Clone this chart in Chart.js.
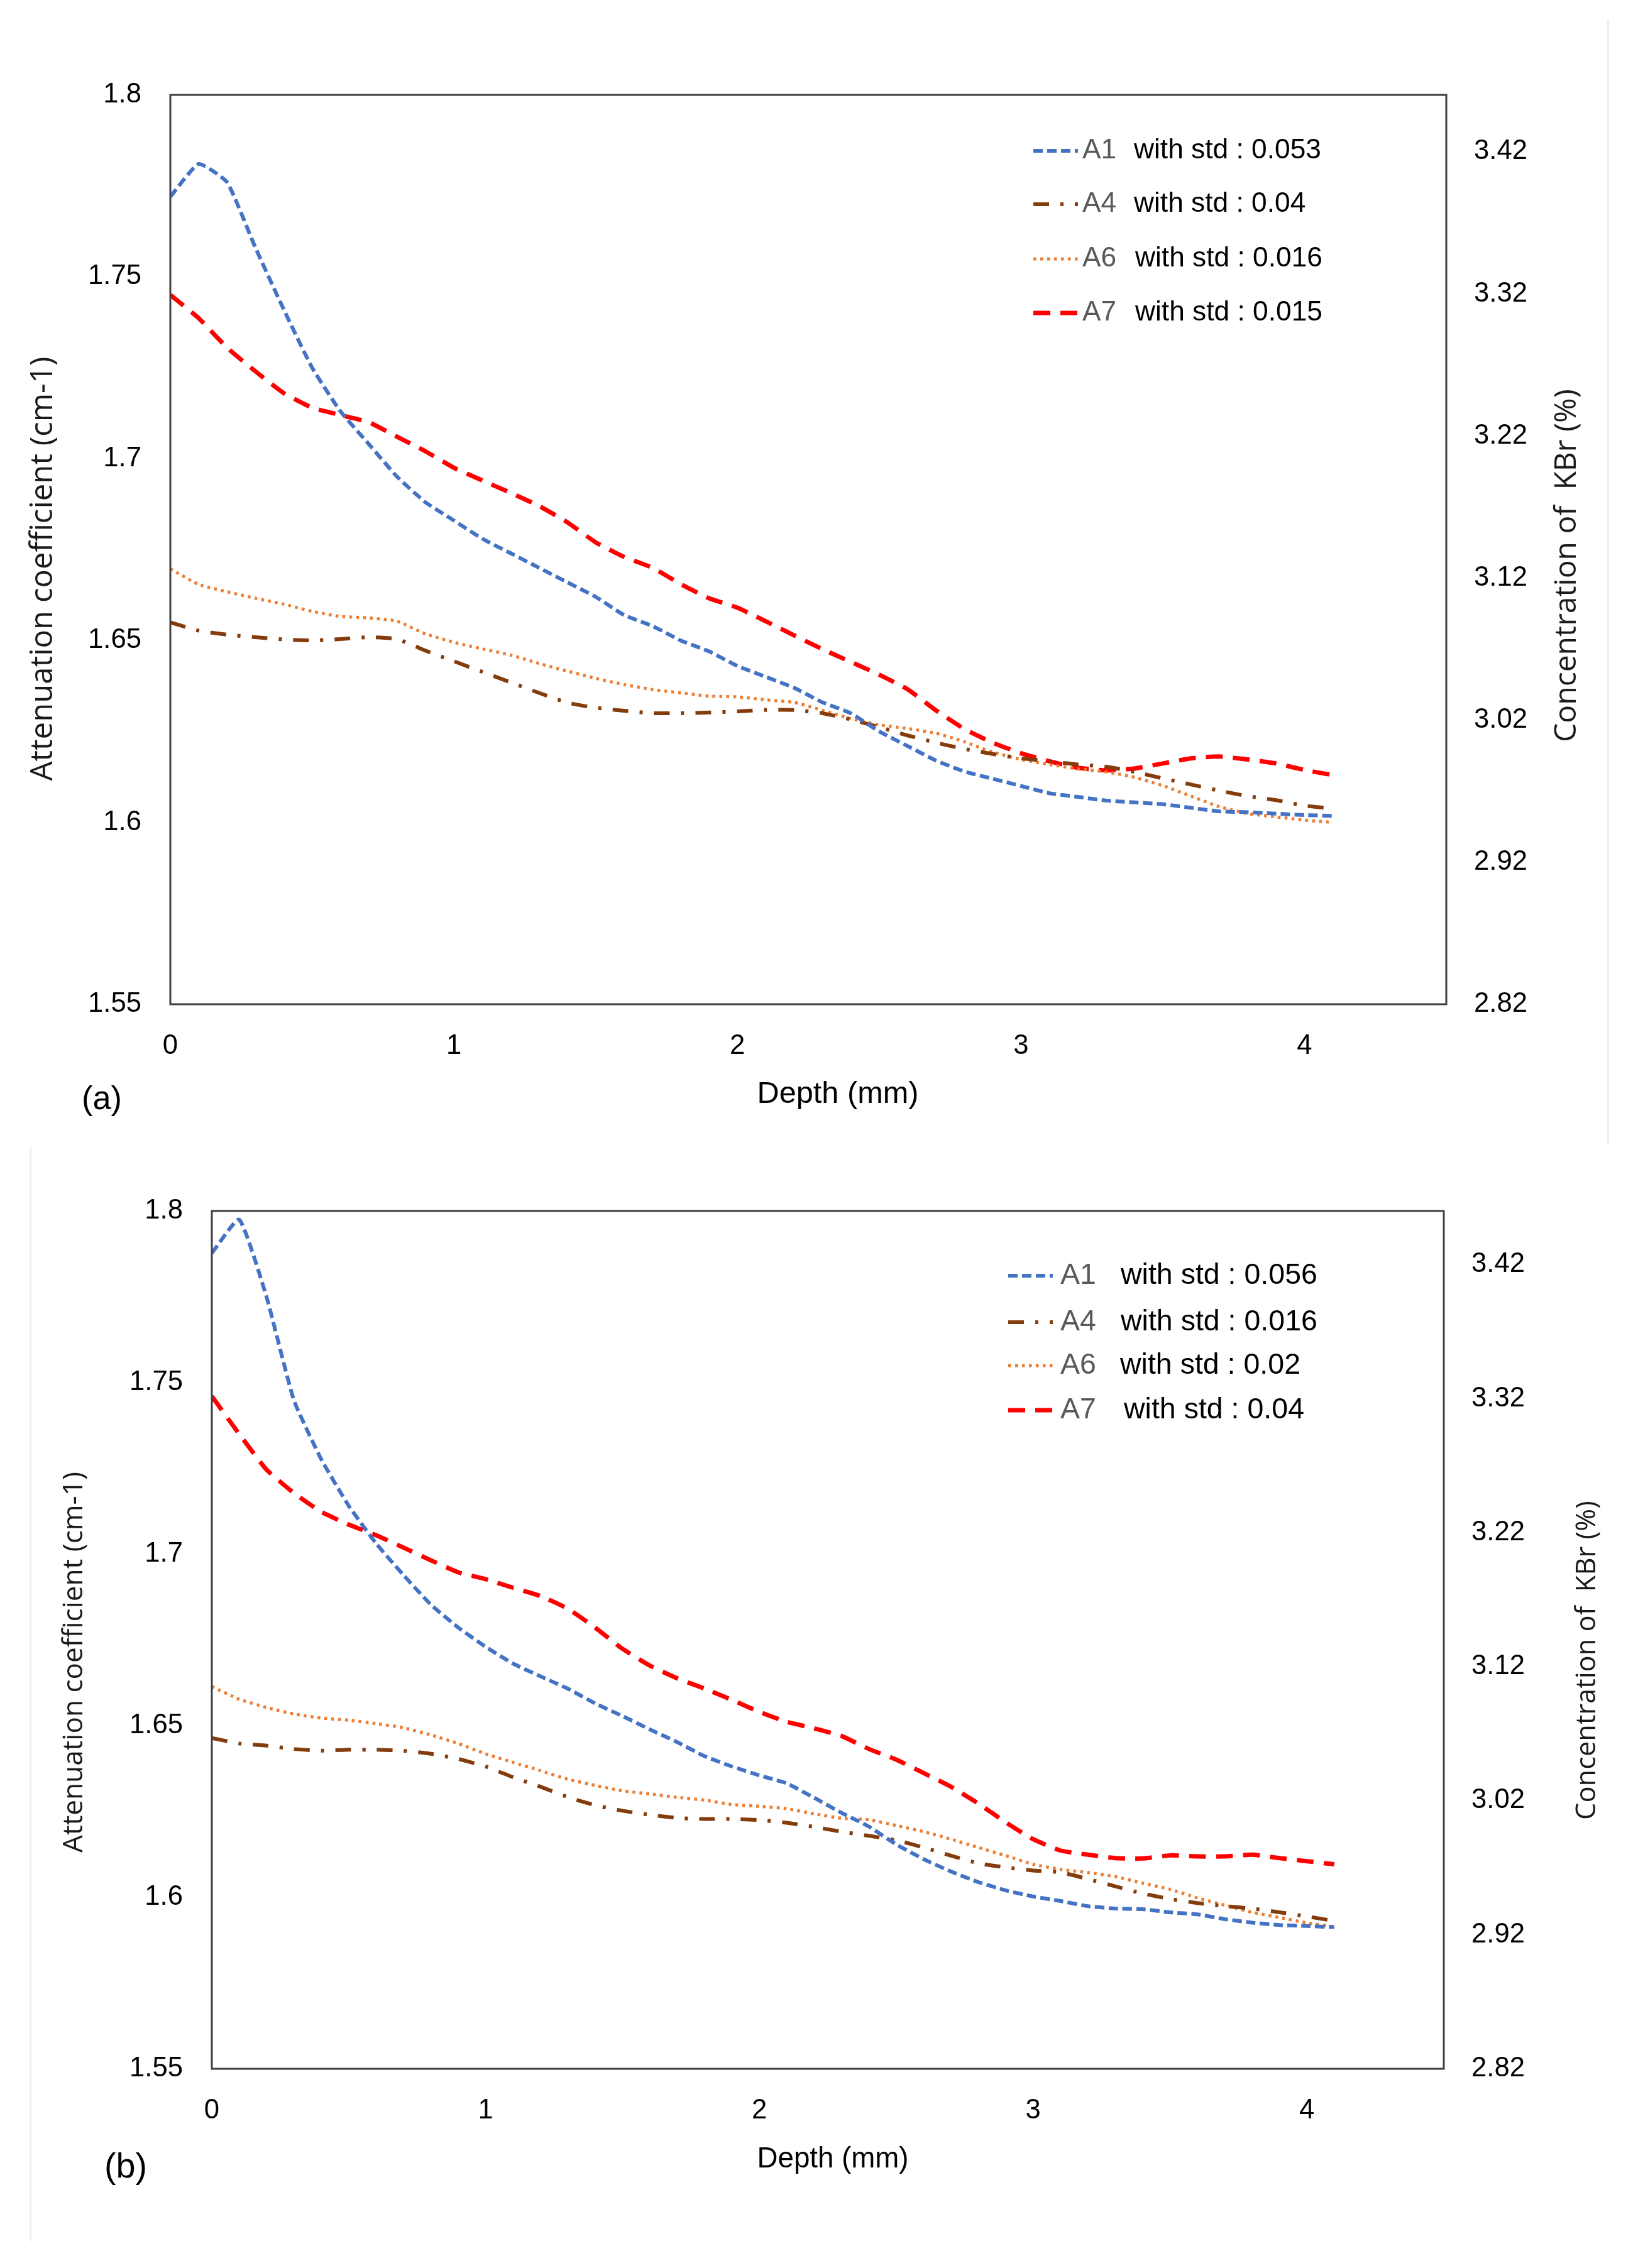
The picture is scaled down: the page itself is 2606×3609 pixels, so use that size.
<!DOCTYPE html>
<html>
<head>
<meta charset="utf-8">
<script src="https://cdn.jsdelivr.net/npm/chart.js@4.4.1/dist/chart.umd.min.js"></script>
<style>
  html, body { margin: 0; padding: 0; background: #fff; }
  body { width: 2606px; height: 3609px; position: relative; overflow: hidden; }
  canvas { position: absolute; left: 0; }
  .edge { position: absolute; background: #ececec; }
</style>
</head>
<body>
<canvas id="chartA" width="2606" height="1800" style="top:0"></canvas>
<canvas id="chartB" width="2606" height="1809" style="top:1800px"></canvas>
<div class="edge" style="left:2557px;top:30px;width:3px;height:1792px"></div>
<div class="edge" style="left:47px;top:1826px;width:3px;height:1740px"></div>
<script>
// ====== DATA ======
// depth (mm), one reading every 0.1 mm
const depth = [0, 0.1, 0.2, 0.3, 0.4, 0.5, 0.6, 0.7, 0.8, 0.9, 1, 1.1, 1.2, 1.3, 1.4, 1.5, 1.6, 1.7, 1.8, 1.9, 2,
  2.1, 2.2, 2.3, 2.4, 2.5, 2.6, 2.7, 2.8, 2.9, 3, 3.1, 3.2, 3.3, 3.4, 3.5, 3.6, 3.7, 3.8, 3.9, 4, 4.1];

const xTicks = [0, 1, 2, 3, 4];
const leftTicks = [1.55, 1.6, 1.65, 1.7, 1.75, 1.8];
const rightTicks = [2.82, 2.92, 3.02, 3.12, 3.22, 3.32, 3.42];

const seriesNames = ['A1', 'A4', 'A6', 'A7'];
const stdA = ['0.053', '0.04', '0.016', '0.015'];
const stdB = ['0.056', '0.016', '0.02', '0.04'];

// panel (a)
const a_A1 = [1.772, 1.781, 1.776, 1.758, 1.741, 1.725, 1.713, 1.704, 1.695, 1.688, 1.683, 1.678, 1.674, 1.670,
  1.666, 1.662, 1.657, 1.654, 1.650, 1.647, 1.643, 1.640, 1.637, 1.633, 1.630, 1.625, 1.621, 1.617, 1.614, 1.612,
  1.610, 1.608, 1.607, 1.606, 1.6055, 1.605, 1.604, 1.603, 1.6028, 1.6024, 1.602, 1.6018];
const a_A4 = [1.655, 1.6527, 1.6516, 1.6509, 1.6503, 1.650, 1.6504, 1.6509, 1.6504, 1.6472, 1.6443, 1.6414, 1.6385,
  1.6356, 1.6329, 1.6315, 1.6307, 1.630, 1.630, 1.6302, 1.6305, 1.6309, 1.6309, 1.630, 1.6283, 1.6262, 1.6239,
  1.6219, 1.6202, 1.6188, 1.6176, 1.6168, 1.6159, 1.6153, 1.6139, 1.6121, 1.6104, 1.6087, 1.6072, 1.6061, 1.6046, 1.6038];
const a_A6 = [1.6697, 1.6654, 1.6634, 1.6616, 1.660, 1.658, 1.6566, 1.6562, 1.6553, 1.6518, 1.6495, 1.6477, 1.646,
  1.6437, 1.6416, 1.6396, 1.6379, 1.6365, 1.6356, 1.6347, 1.6345, 1.6337, 1.633, 1.6308, 1.6285, 1.6268, 1.6258,
  1.6245, 1.6222, 1.6193, 1.6173, 1.6159, 1.6147, 1.6139, 1.6124, 1.6101, 1.6072, 1.6043, 1.6024, 1.6015, 1.6006, 1.600];
const a_A7 = [1.745, 1.7386, 1.7305, 1.724, 1.718, 1.714, 1.712, 1.710, 1.706, 1.702, 1.6975, 1.694, 1.6906, 1.687,
  1.6825, 1.677, 1.673, 1.670, 1.6655, 1.6616, 1.659, 1.6553, 1.6514, 1.6476, 1.6441, 1.6406, 1.6366, 1.6308, 1.6257,
  1.6219, 1.619, 1.6168, 1.615, 1.6143, 1.6148, 1.6162, 1.6176, 1.6181, 1.6173, 1.6162, 1.6144, 1.613];

// panel (b)
const b_A1 = [1.7877, 1.7975, 1.7749, 1.7448, 1.7276, 1.7141, 1.7031, 1.6939, 1.6853, 1.6786, 1.673, 1.6681, 1.6644,
  1.6608, 1.6565, 1.6528, 1.6489, 1.6452, 1.6411, 1.6381, 1.6355, 1.6332, 1.629, 1.6246, 1.6206, 1.6154, 1.6111,
  1.6075, 1.6044, 1.602, 1.6002, 1.5989, 1.5974, 1.5967, 1.5965, 1.5956, 1.595, 1.5936, 1.5926, 1.5919, 1.5916, 1.5913];
const b_A4 = [1.6464, 1.6448, 1.6442, 1.6432, 1.6427, 1.643, 1.643, 1.6427, 1.6418, 1.6403, 1.6381, 1.635, 1.6322,
  1.6292, 1.6268, 1.6252, 1.624, 1.6231, 1.6228, 1.6228, 1.6225, 1.6217, 1.6205, 1.6191, 1.6179, 1.6166, 1.6145,
  1.6121, 1.6099, 1.6087, 1.6078, 1.6073, 1.6053, 1.6032, 1.6011, 1.5995, 1.5983, 1.5974, 1.5967, 1.5956, 1.5944, 1.5931];
const b_A6 = [1.6614, 1.6577, 1.6553, 1.6534, 1.6522, 1.6516, 1.6506, 1.6494, 1.6473, 1.6448, 1.6418, 1.6393, 1.6369,
  1.6344, 1.6326, 1.631, 1.6301, 1.6291, 1.6283, 1.627, 1.6265, 1.6258, 1.6243, 1.623, 1.6226, 1.6209, 1.6191,
  1.6169, 1.6145, 1.6121, 1.6096, 1.6081, 1.6072, 1.606, 1.6041, 1.6023, 1.5998, 1.5977, 1.5956, 1.5941, 1.5925, 1.5914];
const b_A7 = [1.746, 1.735, 1.7246, 1.7178, 1.7123, 1.7086, 1.7055, 1.7019, 1.6982, 1.6947, 1.6927, 1.6902, 1.6878,
  1.6841, 1.6786, 1.6724, 1.6675, 1.6638, 1.6608, 1.6575, 1.654, 1.6511, 1.6492, 1.647, 1.6432, 1.6401, 1.6362,
  1.6322, 1.6273, 1.6218, 1.6169, 1.6136, 1.6124, 1.6114, 1.6113, 1.6122, 1.6119, 1.6119, 1.6124, 1.6114, 1.6105, 1.6096];

// ====== STYLE ======
const TEXT = '"Liberation Sans", Arial, sans-serif';
const TITLE = '"Open Sans", "Noto Sans", sans-serif';
const lineStyles = [
  { color: '#4472C4', width: 6, dash: [15, 7] },          // A1 short dash
  { color: '#843C0C', width: 6, dash: [25, 18, 5, 18] },  // A4 dash-dot
  { color: '#ED7D31', width: 5, dash: [4.5, 6.5] },       // A6 dotted
  { color: '#FF0000', width: 7, dash: [27, 16] }          // A7 long dash
];

const measureCtx = document.createElement('canvas').getContext('2d');
function fitSize(text, family, width) {
  measureCtx.font = '100px ' + family;
  return 100 * width / measureCtx.measureText(text).width;
}

function setTicks(values) {
  return scale => { scale.ticks = values.map(v => ({ value: v })); };
}

// titles, frame and legend drawn on top of the chart
const panelDecor = {
  id: 'panelDecor',
  afterDraw(chart, args, opts) {
    const ctx = chart.ctx;
    const area = chart.chartArea;
    const L = opts.lay;
    ctx.save();

    ctx.strokeStyle = '#404040';
    ctx.lineWidth = 3;
    ctx.strokeRect(area.left, area.top, area.right - area.left, area.bottom - area.top);

    ctx.fillStyle = '#000';
    ctx.textBaseline = 'middle';

    // x title
    ctx.textAlign = 'center';
    ctx.font = fitSize('Depth (mm)', TEXT, L.xTitle.w) + 'px ' + TEXT;
    ctx.fillText('Depth (mm)', L.xTitle.x, L.xTitle.y);

    // panel label
    ctx.textAlign = 'left';
    ctx.font = fitSize(L.tag.text, TEXT, L.tag.w) + 'px ' + TEXT;
    ctx.fillText(L.tag.text, L.tag.x, L.tag.y);

    // rotated y titles (both read bottom to top)
    [L.yTitle, L.y2Title].forEach(t => {
      ctx.save();
      ctx.translate(t.x, t.y);
      ctx.rotate(-Math.PI / 2);
      ctx.textAlign = 'center';
      ctx.fillStyle = '#1a1a1a';
      ctx.font = fitSize(t.text, TITLE, t.w) + 'px ' + TITLE;
      ctx.fillText(t.text, 0, 0);
      ctx.restore();
    });

    // legend
    const lg = L.legend;
    const size = fitSize('with std : ' + opts.stds[0], TEXT, lg.stdW);
    ctx.font = size + 'px ' + TEXT;
    ctx.textAlign = 'left';
    chart.data.datasets.forEach((ds, i) => {
      const st = lineStyles[i];
      const y = lg.rows[i];
      ctx.save();
      ctx.strokeStyle = st.color;
      ctx.lineWidth = st.width;
      ctx.setLineDash(st.dash);
      ctx.beginPath();
      ctx.moveTo(lg.x0, y);
      ctx.lineTo(lg.x1, y);
      ctx.stroke();
      ctx.restore();
      ctx.fillStyle = '#595959';
      ctx.fillText(ds.label, lg.labelX, y);
      ctx.fillStyle = '#000';
      ctx.fillText('with std : ' + opts.stds[i], lg.stdX[i], y);
    });
    ctx.restore();
  }
};

function makeChart(id, values, stds, lay) {
  const tickSize = fitSize('3.42', TEXT, lay.tickW);
  const tickFont = { family: TEXT, size: tickSize };
  const noGrid = { display: false, drawTicks: false };

  return new Chart(document.getElementById(id).getContext('2d'), {
    type: 'line',
    data: {
      datasets: values.map((vals, i) => ({
        label: seriesNames[i],
        data: depth.map((d, j) => ({ x: d, y: vals[j] })),
        borderColor: lineStyles[i].color,
        borderWidth: lineStyles[i].width,
        borderDash: lineStyles[i].dash,
        pointRadius: 0,
        fill: false,
        tension: 0.15,
        yAxisID: 'y'
      }))
    },
    options: {
      responsive: false,
      animation: false,
      devicePixelRatio: 1,
      layout: { padding: lay.pad },
      plugins: {
        legend: { display: false },
        tooltip: { enabled: false },
        panelDecor: { lay: lay, stds: stds }
      },
      scales: {
        x: {
          type: 'linear', min: 0, max: 4.5,
          afterBuildTicks: setTicks(xTicks),
          afterFit: s => { s.height = lay.xH; },
          grid: noGrid, border: { display: false },
          ticks: { font: tickFont, color: '#000', padding: lay.xPad, maxRotation: 0, autoSkip: false,
                   callback: v => String(v) }
        },
        y: {
          position: 'left', min: 1.55, max: 1.8,
          afterBuildTicks: setTicks(leftTicks),
          afterFit: s => { s.width = lay.yW; },
          grid: noGrid, border: { display: false },
          ticks: { font: tickFont, color: '#000', padding: 46, callback: v => String(v) }
        },
        y2: {
          position: 'right', display: true, min: 2.82, max: 3.46,
          afterBuildTicks: setTicks(rightTicks),
          afterFit: s => { s.width = lay.y2W; },
          grid: noGrid, border: { display: false },
          ticks: { font: tickFont, color: '#000', padding: 44, callback: v => String(v) }
        }
      }
    },
    plugins: [panelDecor]
  });
}

makeChart('chartA', [a_A1, a_A4, a_A6, a_A7], stdA, {
  pad: { left: 0, top: 151, right: 155, bottom: 82 },
  yW: 271, y2W: 150, xH: 120, xPad: 41, tickW: 85,
  xTitle: { x: 1333, y: 1742, w: 257 },
  tag: { text: '(a)', x: 130, y: 1751, w: 64 },
  yTitle: { text: 'Attenuation coefficient (cm-1)', x: 69, y: 905, w: 675 },
  y2Title: { text: 'Concentration of  KBr (%)', x: 2493, y: 900, w: 562 },
  legend: { x0: 1644, x1: 1715, labelX: 1722, stdX: [1804, 1804, 1806, 1806], stdW: 298,
            rows: [240, 325, 412, 498] }
});

makeChart('chartB', [b_A1, b_A4, b_A6, b_A7], stdB, {
  pad: { left: 0, top: 127, right: 159, bottom: 197 },
  yW: 337, y2W: 150, xH: 120, xPad: 41, tickW: 85,
  xTitle: { x: 1325, y: 1636, w: 241 },
  tag: { text: '(b)', x: 166, y: 1650, w: 68 },
  yTitle: { text: 'Attenuation coefficient (cm-1)', x: 118, y: 845, w: 606 },
  y2Title: { text: 'Concentration of  KBr (%)', x: 2526, y: 842, w: 508 },
  legend: { x0: 1604, x1: 1675, labelX: 1687, stdX: [1783, 1783, 1782, 1788], stdW: 313,
            rows: [230, 304, 373, 444] }
});
</script>
</body>
</html>
